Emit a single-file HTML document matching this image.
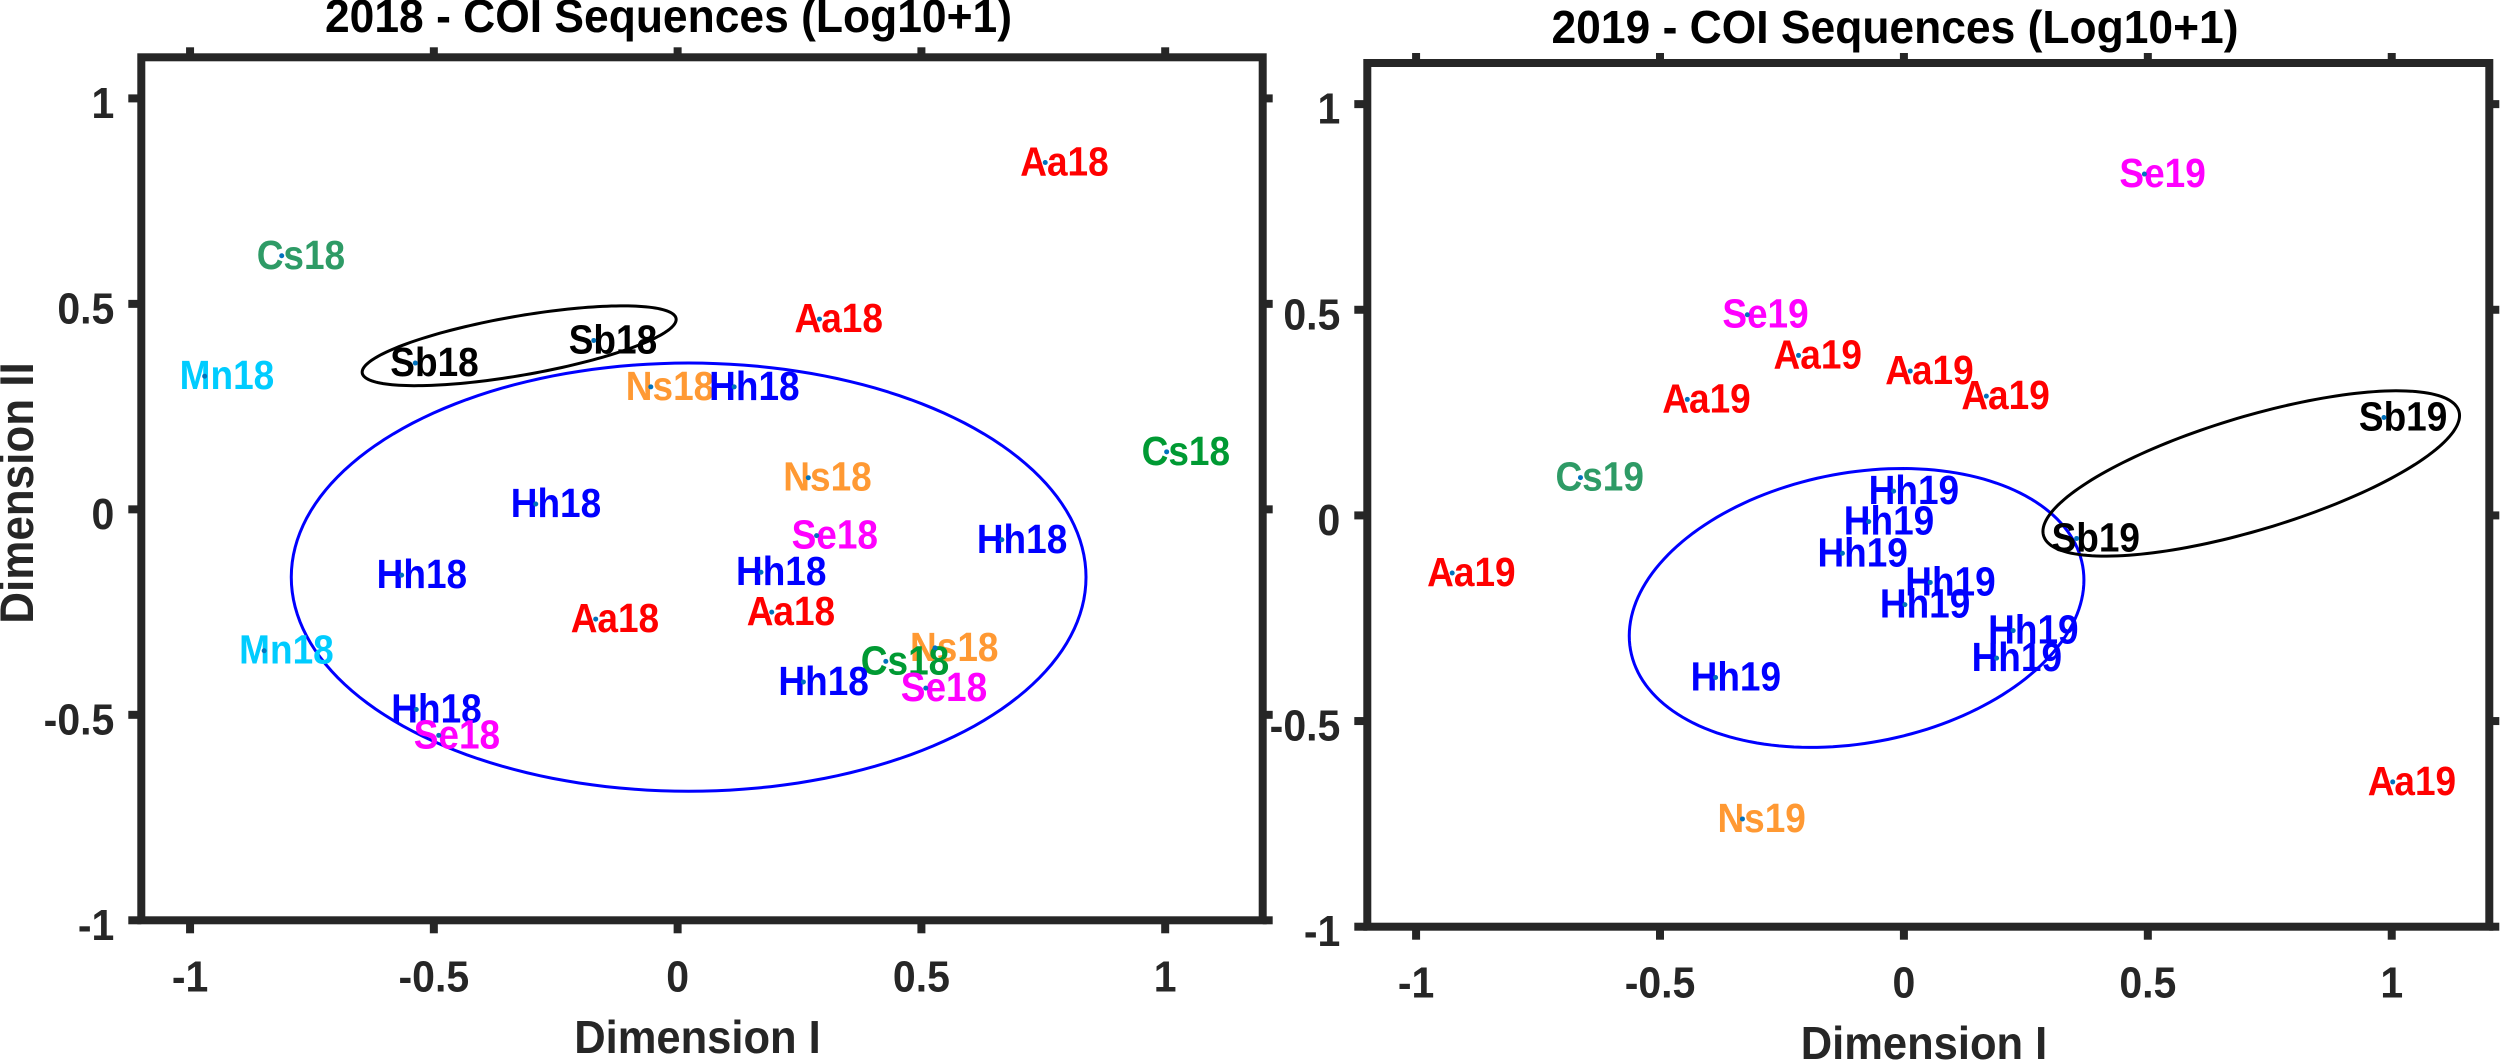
<!DOCTYPE html>
<html lang="en">
<head>
<meta charset="utf-8">
<title>COI Sequences Ordination</title>
<style>
html,body{margin:0;padding:0;background:#fff;}
svg{display:block;font-family:"Liberation Sans",Arial,sans-serif;font-weight:bold;}
</style>
</head>
<body>
<svg id="chart" xmlns="http://www.w3.org/2000/svg" width="2500" height="1060" viewBox="0 0 2500 1060"></svg>
<script>
// ---- Data: axes ----
const xTicks = [-1, -0.5, 0, 0.5, 1];
const yTicks = [-1, -0.5, 0, 0.5, 1];
const xTickLabels = ['-1', '-0.5', '0', '0.5', '1'];
const yTickLabels = ['-1', '-0.5', '0', '0.5', '1'];

// ---- Data: 2018 points ----
const labels2018 = ['Aa18','Cs18','Aa18','Sb18','Sb18','Mn18','Ns18','Hh18','Cs18','Ns18','Hh18','Se18','Hh18','Hh18','Hh18','Aa18','Aa18','Mn18','Ns18','Cs18','Hh18','Se18','Hh18','Se18'];
const groups2018 = ['Aa','CsA','Aa','Sb','Sb','Mn','Ns','Hh','CsB','Ns','Hh','Se','Hh','Hh','Hh','Aa','Aa','Mn','Ns','CsB','Hh','Se','Hh','Se'];
const dimI2018 = [0.754,-0.812,0.291,-0.172,-0.538,-0.97,-0.055,0.116,1.003,0.268,-0.291,0.285,0.665,0.171,-0.566,-0.168,0.193,-0.848,0.528,0.427,0.258,0.509,-0.536,-0.49];
const dimII2018 = [0.844,0.617,0.463,0.411,0.356,0.324,0.298,0.298,0.14,0.077,0.013,-0.064,-0.074,-0.153,-0.16,-0.267,-0.25,-0.344,-0.337,-0.37,-0.42,-0.435,-0.487,-0.55];

// ---- Data: 2019 points ----
const labels2019 = ['Se19','Se19','Aa19','Aa19','Aa19','Aa19','Sb19','Cs19','Hh19','Hh19','Hh19','Sb19','Aa19','Hh19','Hh19','Hh19','Hh19','Hh19','Aa19','Ns19'];
const groups2019 = ['Se','Se','Aa','Aa','Aa','Aa','Sb','CsA','Hh','Hh','Hh','Sb','Aa','Hh','Hh','Hh','Hh','Hh','Aa','Ns'];
const dimI2019 = [0.493,-0.321,-0.216,0.013,0.169,-0.444,0.984,-0.663,-0.021,-0.072,-0.126,0.354,-0.926,0.054,0.002,0.224,0.19,-0.386,1.002,-0.331];
const dimII2019 = [0.83,0.488,0.389,0.351,0.29,0.282,0.238,0.092,0.059,-0.015,-0.092,-0.056,-0.14,-0.163,-0.217,-0.28,-0.347,-0.394,-0.648,-0.738];

// ---- Data: confidence ellipses (centre, half extents in data units, correlation) ----
const ellipseNames2018 = ['hh-ellipse-2018', 'sb-ellipse-2018'];
const ellipseCx2018 = [0.0226, -0.325];
const ellipseCy2018 = [-0.165, 0.398];
const ellipseAx2018 = [0.815, 0.322];
const ellipseAy2018 = [0.521, 0.0971];
const ellipseRho2018 = [0, 0.66];

const ellipseNames2019 = ['hh-ellipse-2019', 'sb-ellipse-2019'];
const ellipseCx2019 = [-0.097, 0.712];
const ellipseCy2019 = [-0.225, 0.102];
const ellipseAx2019 = [0.466, 0.427];
const ellipseAy2019 = [0.339, 0.201];
const ellipseRho2019 = [0.2, 0.7];

// ---- Rendering ----
const NS = 'http://www.w3.org/2000/svg';
const svg = document.getElementById('chart');
const GROUP_COLORS = {Aa:'#ff0000',CsA:'#2e9b66',CsB:'#009a33',Sb:'#000000',Mn:'#00ccff',Ns:'#ff9933',Hh:'#0000ff',Se:'#ff00ff'};
const ELLIPSE_COLORS = ['#0000ff', '#000000'];
const AXIS_COLOR = '#262626';
const XMIN = -1.1, XMAX = 1.2, YMIN = -1, YMAX = 1.1;

function make(tag, attrs, parent) {
  const el = document.createElementNS(NS, tag);
  for (const k in attrs) el.setAttribute(k, attrs[k]);
  parent.appendChild(el);
  return el;
}

function stretched(x, y, s) {
  return 'translate(' + x.toFixed(2) + ' ' + y.toFixed(2) + ') scale(1 ' + s + ')';
}

function drawPanel(cfg) {
  const g = make('g', {}, svg);
  
  

  const sx = v => cfg.left + (v - XMIN) / (XMAX - XMIN) * (cfg.right - cfg.left);
  const sy = v => cfg.bottom - (v - YMIN) / (YMAX - YMIN) * (cfg.bottom - cfg.top);

  // ellipses
  cfg.ellipseCx.forEach((cx, i) => {
    const ax = cfg.ellipseAx[i], ay = cfg.ellipseAy[i], rho = cfg.ellipseRho[i], cy = cfg.ellipseCy[i];
    const q = Math.sqrt(1 - rho * rho);
    let d = '';
    for (let k = 0; k <= 180; k++) {
      const t = k / 180 * 2 * Math.PI;
      const px = sx(cx + ax * Math.cos(t));
      const py = sy(cy + ay * (rho * Math.cos(t) + q * Math.sin(t)));
      d += (k ? 'L' : 'M') + px.toFixed(2) + ' ' + py.toFixed(2);
    }
    const e = make('path', {d: d + 'Z', fill: 'none', stroke: ELLIPSE_COLORS[i], 'stroke-width': 3}, g);
    
    
  });

  // point labels
  cfg.labels.forEach((label, i) => {
    const t = make('text', {transform: stretched(sx(cfg.xs[i]) - 25, sy(cfg.ys[i]) + 13, 1.1), 'font-size': 37, fill: GROUP_COLORS[cfg.groups[i]]}, g);
    t.textContent = label;
    
    
  });

  // point markers
  cfg.labels.forEach((label, i) => {
    const c = make('circle', {cx: sx(cfg.xs[i]), cy: sy(cfg.ys[i]), r: 2.5, fill: '#0072bd'}, g);
    
    
  });

  // frame
  const frame = make('rect', {x: cfg.left, y: cfg.top, width: cfg.right - cfg.left, height: cfg.bottom - cfg.top, fill: 'none', stroke: AXIS_COLOR, 'stroke-width': 8}, g);
  
  

  // x ticks
  xTicks.forEach((v, i) => {
    const x = sx(v);
    const tb = make('line', {x1: x, x2: x, y1: cfg.bottom, y2: cfg.bottom + 13, stroke: AXIS_COLOR, 'stroke-width': 8}, g);
    
    
    const tt = make('line', {x1: x, x2: x, y1: cfg.top, y2: cfg.top - 10, stroke: AXIS_COLOR, 'stroke-width': 8}, g);
    
    
    const lab = make('text', {transform: stretched(x, cfg.bottom + 71, 1.07), 'font-size': 41, fill: AXIS_COLOR, 'text-anchor': 'middle'}, g);
    lab.textContent = xTickLabels[i];
    
    
  });

  // y ticks
  yTicks.forEach((v, i) => {
    const y = sy(v);
    const tl = make('line', {x1: cfg.left, x2: cfg.left - 13, y1: y, y2: y, stroke: AXIS_COLOR, 'stroke-width': 8}, g);
    
    
    const tr = make('line', {x1: cfg.right, x2: cfg.right + 10, y1: y, y2: y, stroke: AXIS_COLOR, 'stroke-width': 8}, g);
    
    
    const lab = make('text', {transform: stretched(cfg.left - 27, y + 19.5, 1.07), 'font-size': 41, fill: AXIS_COLOR, 'text-anchor': 'end'}, g);
    lab.textContent = yTickLabels[i];
    
    
  });

  // title
  const title = make('text', {transform: stretched(cfg.titleX, cfg.titleY, 1.04), 'font-size': 44.4, fill: '#000', 'text-anchor': 'middle'}, g);
  title.textContent = cfg.title;
  
  

  // x axis title
  const xt = make('text', {transform: stretched(cfg.xLabelX, cfg.xLabelY, 1.06), 'font-size': 43.5, fill: AXIS_COLOR, 'text-anchor': 'middle'}, g);
  xt.textContent = 'Dimension I';
  
  
}

drawPanel({
  id: 'plot-2018', title: '2018 - COI Sequences (Log10+1)',
  left: 141.3, right: 1262.7, top: 57.3, bottom: 920.3,
  titleX: 668.5, titleY: 32, xLabelX: 697.5, xLabelY: 1053,
  labels: labels2018, groups: groups2018, xs: dimI2018, ys: dimII2018,
  ellipseNames: ellipseNames2018, ellipseCx: ellipseCx2018, ellipseCy: ellipseCy2018,
  ellipseAx: ellipseAx2018, ellipseAy: ellipseAy2018, ellipseRho: ellipseRho2018
});

drawPanel({
  id: 'plot-2019', title: '2019 - COI Sequences (Log10+1)',
  left: 1367.3, right: 2489.3, top: 63, bottom: 926.7,
  titleX: 1895, titleY: 43, xLabelX: 1924, xLabelY: 1059,
  labels: labels2019, groups: groups2019, xs: dimI2019, ys: dimII2019,
  ellipseNames: ellipseNames2019, ellipseCx: ellipseCx2019, ellipseCy: ellipseCy2019,
  ellipseAx: ellipseAx2019, ellipseAy: ellipseAy2019, ellipseRho: ellipseRho2019
});

const yTitle = make('text', {x: 0, y: 0, 'font-size': 44, fill: AXIS_COLOR, 'text-anchor': 'middle', transform: 'translate(33 493) rotate(-90) scale(1 1.07)'}, svg);
yTitle.textContent = 'Dimension II';


</script>
</body>
</html>
